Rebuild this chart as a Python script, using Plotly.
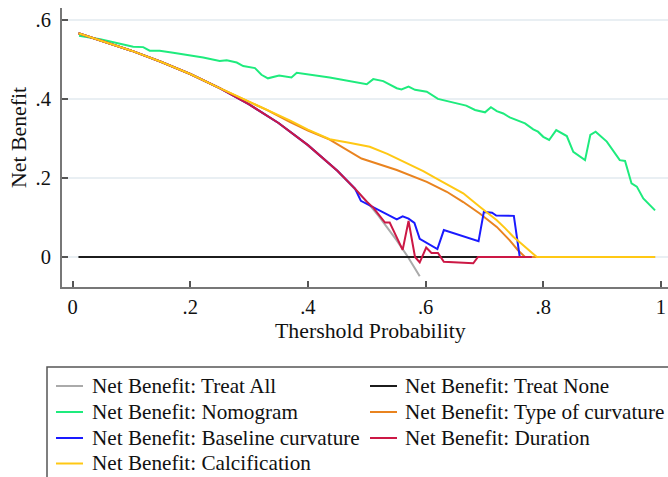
import plotly.graph_objects as go

# ---- data ----
thr_all = [0.01, 0.05, 0.10, 0.15, 0.20, 0.25, 0.30, 0.35, 0.40, 0.45, 0.50, 0.52, 0.54, 0.55, 0.57, 0.59]
nb_all = [0.566, 0.547, 0.522, 0.494, 0.463, 0.427, 0.386, 0.339, 0.283, 0.218, 0.140, 0.104, 0.065, 0.044, 0.000, -0.049]

thr_none = [0.01, 0.99]
nb_none = [0.0, 0.0]

thr_nomo = [0.011, 0.047, 0.103, 0.120, 0.131, 0.148, 0.171, 0.200, 0.222, 0.250, 0.262, 0.279, 0.290,
            0.310, 0.321, 0.332, 0.351, 0.372, 0.381, 0.437, 0.500, 0.511, 0.528, 0.551, 0.559, 0.571,
            0.582, 0.602, 0.621, 0.669, 0.684, 0.701, 0.711, 0.721, 0.732, 0.743, 0.769, 0.783, 0.791,
            0.800, 0.810, 0.822, 0.840, 0.851, 0.871, 0.880, 0.889, 0.908, 0.930, 0.939, 0.950, 0.959,
            0.970, 0.990]
nb_nomo = [0.560, 0.551, 0.532, 0.531, 0.522, 0.522, 0.517, 0.510, 0.505, 0.496, 0.498, 0.492, 0.483,
           0.478, 0.461, 0.452, 0.459, 0.454, 0.466, 0.454, 0.437, 0.450, 0.445, 0.427, 0.424, 0.431,
           0.423, 0.418, 0.400, 0.383, 0.372, 0.366, 0.379, 0.369, 0.363, 0.353, 0.338, 0.323, 0.317,
           0.304, 0.296, 0.321, 0.306, 0.266, 0.245, 0.309, 0.317, 0.292, 0.245, 0.243, 0.186, 0.178,
           0.148, 0.118]

thr_type = [0.01, 0.05, 0.10, 0.15, 0.20, 0.25, 0.284, 0.33, 0.369, 0.40, 0.437, 0.491, 0.551, 0.602,
            0.636, 0.664, 0.692, 0.721, 0.743, 0.757, 0.769, 0.99]
nb_type = [0.566, 0.547, 0.522, 0.494, 0.463, 0.427, 0.404, 0.372, 0.342, 0.320, 0.297, 0.249, 0.220, 0.190,
           0.165, 0.139, 0.110, 0.076, 0.042, 0.017, 0.000, 0.000]

thr_base = [0.01, 0.05, 0.10, 0.15, 0.20, 0.25, 0.30, 0.35, 0.40, 0.45, 0.48, 0.49, 0.551, 0.561, 0.571,
            0.581, 0.590, 0.620, 0.631, 0.690, 0.699, 0.713, 0.720, 0.750, 0.760, 0.780]
nb_base = [0.566, 0.547, 0.522, 0.494, 0.463, 0.427, 0.386, 0.339, 0.283, 0.218, 0.173, 0.142, 0.095, 0.103,
           0.097, 0.086, 0.046, 0.020, 0.068, 0.040, 0.114, 0.112, 0.105, 0.104, 0.000, 0.000]

thr_dur = [0.01, 0.05, 0.10, 0.15, 0.20, 0.25, 0.30, 0.35, 0.40, 0.45, 0.48, 0.50, 0.511, 0.531, 0.539,
           0.561, 0.571, 0.582, 0.590, 0.601, 0.610, 0.621, 0.631, 0.681, 0.689, 0.780]
nb_dur = [0.566, 0.547, 0.522, 0.494, 0.463, 0.427, 0.386, 0.339, 0.283, 0.218, 0.173, 0.140, 0.125, 0.087,
          0.087, 0.018, 0.091, 0.000, -0.014, 0.024, 0.010, 0.010, -0.012, -0.016, 0.000, 0.000]

thr_calc = [0.01, 0.05, 0.10, 0.15, 0.20, 0.25, 0.284, 0.33, 0.37, 0.40, 0.437, 0.47, 0.505, 0.535, 0.568,
            0.596, 0.624, 0.645, 0.664, 0.692, 0.706, 0.721, 0.735, 0.749, 0.760, 0.772, 0.789, 0.99]
nb_calc = [0.566, 0.547, 0.522, 0.494, 0.463, 0.427, 0.404, 0.374, 0.345, 0.322, 0.298, 0.289, 0.279, 0.261,
           0.237, 0.217, 0.194, 0.177, 0.161, 0.127, 0.111, 0.093, 0.073, 0.051, 0.037, 0.021, 0.000, 0.000]

x_tickvals = [0, 0.2, 0.4, 0.6, 0.8, 1]
x_ticktext = ["0", ".2", ".4", ".6", ".8", "1"]
y_tickvals = [0, 0.2, 0.4, 0.6]
y_ticktext = ["0", ".2", ".4", ".6"]

series_names = ["Net Benefit: Treat All", "Net Benefit: Treat None", "Net Benefit: Nomogram",
                "Net Benefit: Type of curvature", "Net Benefit: Baseline curvature",
                "Net Benefit: Duration", "Net Benefit: Calcification"]
series_x = [thr_all, thr_none, thr_nomo, thr_type, thr_base, thr_dur, thr_calc]
series_y = [nb_all, nb_none, nb_nomo, nb_type, nb_base, nb_dur, nb_calc]
series_colors = ["#aaaaaa", "#1c1c1c", "#1eeb7d", "#e9831f", "#1a1aff", "#cc1845", "#ffc814"]

FONT = "Liberation Serif"
W, H = 668, 477
ML, MT, MR, MB = 62, 8, 0, H - 287
PW, PH = W - ML - MR, H - MT - MB


def px(xs):
    """screen x (pixels) -> paper coordinate"""
    return (xs - ML) / PW


def py(ys):
    """screen y (pixels) -> paper coordinate"""
    return (H - MB - ys) / PH


fig = go.Figure()
for name, xs, ys, col in zip(series_names, series_x, series_y, series_colors):
    fig.add_trace(go.Scatter(x=xs, y=ys, mode="lines", name=name,
                             line=dict(color=col, width=2), showlegend=False))

shapes = []
annotations = [
    dict(text="Thershold Probability", xref="paper", yref="paper",
         x=px(370), y=py(331), xanchor="center", yanchor="middle",
         showarrow=False, font=dict(family=FONT, size=21.8, color="#111")),
    dict(text="Net Benefit", xref="paper", yref="paper",
         x=px(19), y=py(138), xanchor="center", yanchor="middle",
         textangle=-90, showarrow=False, font=dict(family=FONT, size=21.8, color="#111")),
]

# legend box (manual, runs off the right and bottom edges like the reference)
shapes.append(dict(type="rect", xref="paper", yref="paper",
                   x0=px(47), x1=px(700), y0=py(367), y1=py(520),
                   line=dict(color="#555", width=1.5), fillcolor="rgba(0,0,0,0)", layer="above"))

col_line_x = [(56, 83), (370, 397)]
col_text_x = [90, 403]
row_y = [385.5, 411.5, 437.5, 463]
for i, (name, col) in enumerate(zip(series_names, series_colors)):
    r, c = divmod(i, 2)
    yy = row_y[r]
    shapes.append(dict(type="line", xref="paper", yref="paper",
                       x0=px(col_line_x[c][0]), x1=px(col_line_x[c][1]),
                       y0=py(yy + 0.5), y1=py(yy + 0.5), line=dict(color=col, width=2)))
    annotations.append(dict(text=name, xref="paper", yref="paper",
                            x=px(col_text_x[c]), y=py(yy), xanchor="left", yanchor="middle",
                            showarrow=False, font=dict(family=FONT, size=21.2, color="#111")))

fig.update_layout(
    width=W, height=H,
    margin=dict(l=ML, r=MR, t=MT, b=MB, pad=0),
    paper_bgcolor="white", plot_bgcolor="white",
    font=dict(family=FONT, size=20, color="#111"),
    showlegend=False,
    shapes=shapes,
    annotations=annotations,
)

fig.update_xaxes(
    range=[-0.018, 1.012], tickvals=x_tickvals, ticktext=x_ticktext,
    showgrid=False, zeroline=False, automargin=False,
    showline=True, linecolor="#777", linewidth=2,
    ticks="inside", ticklen=6, tickwidth=1.5, tickcolor="#555",
    ticklabeloverflow="allow",
    tickfont=dict(family=FONT, size=20.5, color="#111"),
)
fig.update_yaxes(
    range=[-0.076, 0.63], tickvals=y_tickvals, ticktext=y_ticktext,
    showgrid=True, gridcolor="#e9eff3", gridwidth=1.5, zeroline=False, automargin=False,
    showline=True, linecolor="#777", linewidth=2,
    ticks="inside", ticklen=6, tickwidth=1.5, tickcolor="#555",
    ticklabelstandoff=5,
    tickfont=dict(family=FONT, size=20.5, color="#111"),
)

# place the figure flush with the page corner (no default body margin, no scrollbars)
fig.write_html(
    "out.html",
    config={"displayModeBar": False},
    post_script="document.body.style.margin='0';document.documentElement.style.overflow='hidden';document.body.style.overflow='hidden';",
)
